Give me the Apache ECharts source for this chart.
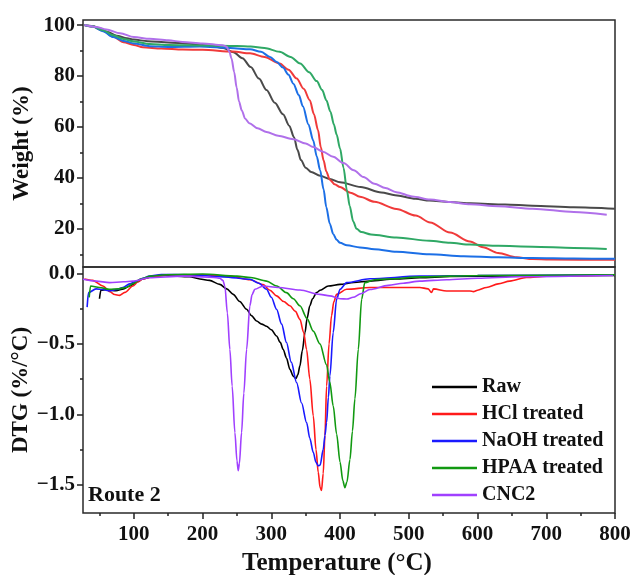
<!DOCTYPE html>
<html>
<head>
<meta charset="utf-8">
<script src="https://cdn.jsdelivr.net/npm/echarts@6/dist/echarts.min.js"></script>
<style>html,body{margin:0;padding:0;background:#fff}#c{width:630px;height:575px}</style>
</head>
<body>
<div id="c"></div>
<script>
// ---- Data ----
const seriesNames = ['Raw', 'HCl treated', 'NaOH treated', 'HPAA treated', 'CNC2'];
const xTickLabels = [100, 200, 300, 400, 500, 600, 700, 800];
const xMinorTicks = [50, 150, 250, 350, 450, 550, 650, 750];
const tgTickLabels = [20, 40, 60, 80, 100];
const tgMinorTicks = [10, 30, 50, 70, 90];
const dtgTickLabels = [0, -0.5, -1.0, -1.5];
const dtgMinorTicks = [-0.25, -0.75, -1.25];

// TG (weight %) curves: [temperature, weight]
const tgRaw = [[28,100],[40,99.6],[50,98.8],[62,97.3],[75,95.8],[90,94.8],[100,94.3],[120,93.7],[150,93.2],[180,92.7],[210,92],[230,91],[245,89.3],[258,87],[270,83.5],[282,79],[293,74.5],[305,69.5],[317,65],[326,60.5],[333,56],[338,51],[343,47],[350,44],[358,42.3],[371,40.8],[385,39.6],[400,38.3],[430,36.4],[460,34.3],[480,33.2],[510,31.8],[530,31.1],[560,30.5],[590,30],[640,29.5],[680,29.1],[740,28.5],[800,27.9]];
const tgHCl = [[28,100],[40,99.4],[55,97.8],[70,95.5],[85,93.3],[100,92.2],[113,91.3],[140,90.8],[171,90.4],[200,90.3],[244,89.6],[269,88.9],[290,87.5],[312,84.9],[325,82.5],[337,79],[347,75],[356,70.5],[362,65],[368,58.7],[372,52],[376,46.9],[380,42.5],[385,39.3],[392,37.5],[400,36.4],[415,34.2],[429,32.6],[450,30.6],[482,27.8],[510,25.2],[531,22.5],[560,18.5],[589,15],[608,12.8],[630,10.5],[657,8.8],[680,8.1],[705,7.9],[800,7.8]];
const tgNaOH = [[28,100],[40,99.4],[55,97.6],[70,95.3],[85,93.8],[100,92.8],[123,91.7],[150,91.4],[196,91.6],[240,91],[269,90.5],[285,89.5],[298,87.5],[308,85.5],[317,83.3],[325,80.5],[332,77],[340,72.5],[346,68],[354,61],[361,54.7],[366,48.5],[371,43],[376,35.5],[380,28.5],[385,22],[390,18],[395,15.7],[400,14.5],[410,13.5],[429,12.7],[450,12],[482,11],[530,10],[580,9.2],[630,8.8],[680,8.5],[740,8.3],[800,8.2]];
const tgHPAA = [[28,100],[40,99.5],[55,98],[70,96],[85,94.5],[100,93.6],[123,92.6],[150,92.2],[200,92],[250,91.8],[270,91.6],[290,91],[312,89.5],[328,87.5],[342,84.9],[355,81.5],[366,78],[374,74.5],[380,70.5],[386,66],[391,61],[395,57],[400,51.5],[405,44],[410,35],[414,29],[419,23],[424,20],[431,18.7],[445,17.8],[482,16.6],[530,15.3],[560,14.5],[589,13.8],[630,13.3],[680,13],[740,12.5],[788,12.1]];
const tgCNC2 = [[28,100],[45,99.3],[60,98.3],[80,96.8],[100,95.3],[123,94.6],[150,94],[171,93.4],[200,92.8],[229,92.1],[235,91.5],[239,89.5],[242,87],[246,81.5],[249.5,75.5],[253,70],[257,66.5],[262,63.2],[268,61.5],[280,59.5],[293,58],[310,56.5],[332,55.2],[350,53.5],[361,52.1],[375,50.3],[390,48.3],[405,45.8],[420,43],[434,40.3],[450,37.7],[466,36],[482,34.4],[505,32.7],[531,31.5],[560,30.5],[589,29.6],[630,28.9],[680,27.9],[740,26.6],[788,25.5]];

// DTG (%/°C) curves: [temperature, dtg]
const dtgRaw = [[50,-0.18],[52,-0.12],[60,-0.115],[74,-0.123],[85,-0.11],[94,-0.09],[105,-0.06],[113,-0.04],[130,-0.02],[146,-0.015],[181,-0.024],[196,-0.04],[210,-0.05],[225,-0.078],[235,-0.11],[244.5,-0.149],[254,-0.2],[264,-0.255],[271,-0.3],[278.5,-0.338],[286,-0.36],[293,-0.375],[300,-0.4],[307.6,-0.444],[313,-0.49],[317.3,-0.54],[322,-0.6],[327,-0.68],[332,-0.73],[335.8,-0.746],[338.5,-0.72],[341.6,-0.656],[345,-0.55],[349,-0.42],[352,-0.32],[356,-0.23],[360,-0.18],[365.8,-0.137],[371,-0.12],[383,-0.09],[400,-0.078],[420,-0.065],[443.5,-0.055],[480,-0.04],[516,-0.031],[560,-0.022],[650,-0.018],[800,-0.015]];
const dtgHCl = [[28,-0.04],[40,-0.05],[55,-0.09],[65,-0.13],[72,-0.15],[79,-0.156],[87,-0.135],[98.5,-0.09],[106,-0.06],[113,-0.04],[130,-0.02],[146.6,-0.012],[200,-0.01],[240,-0.02],[269,-0.045],[288,-0.08],[298,-0.12],[307.6,-0.16],[318,-0.2],[327,-0.23],[335,-0.27],[341.6,-0.326],[347,-0.42],[351.3,-0.54],[356,-0.75],[361,-1.01],[365,-1.25],[368.2,-1.41],[371,-1.52],[373,-1.54],[375.5,-1.42],[378,-1.15],[380.4,-0.8],[384,-0.5],[387.6,-0.3],[391,-0.2],[395,-0.149],[409.5,-0.113],[443.5,-0.1],[492,-0.1],[516,-0.1],[528,-0.11],[533,-0.136],[536,-0.11],[555,-0.125],[575,-0.125],[589,-0.125],[594,-0.13],[600,-0.12],[613,-0.1],[630,-0.075],[647,-0.055],[671,-0.03],[700,-0.02],[800,-0.012]];
const dtgNaOH = [[32,-0.24],[34,-0.137],[45,-0.11],[55,-0.115],[64.6,-0.125],[75,-0.115],[84,-0.1],[94,-0.075],[103.4,-0.055],[113,-0.035],[122.8,-0.02],[140,-0.008],[180,-0.01],[230,-0.025],[268.8,-0.042],[282,-0.07],[293,-0.113],[300,-0.17],[307.6,-0.255],[315,-0.36],[322,-0.49],[329,-0.63],[336.8,-0.775],[344,-0.92],[351.3,-1.058],[356,-1.17],[361,-1.27],[365,-1.34],[368.2,-1.365],[371,-1.36],[375.5,-1.25],[378,-1.15],[380.4,-1.058],[383,-0.88],[385.2,-0.727],[390,-0.42],[395,-0.184],[400,-0.113],[409.5,-0.066],[443.5,-0.038],[516,-0.02],[600,-0.015],[800,-0.01]];
const dtgHPAA = [[35,-0.17],[37,-0.09],[50,-0.1],[64.6,-0.113],[78,-0.11],[88.8,-0.1],[100,-0.07],[110,-0.04],[125,-0.02],[146,-0.01],[200,-0.005],[250,-0.02],[270,-0.03],[293,-0.055],[308,-0.09],[322,-0.137],[332,-0.18],[341.6,-0.23],[352,-0.32],[361,-0.41],[370.7,-0.5],[380.4,-0.65],[385,-0.77],[390,-0.94],[395,-1.14],[400,-1.34],[404,-1.47],[407,-1.52],[410,-1.48],[414.4,-1.32],[418,-1.12],[421.6,-0.89],[426.5,-0.54],[431.4,-0.184],[436,-0.066],[450,-0.045],[467.8,-0.04],[520,-0.025],[600,-0.015],[800,-0.01]];
const dtgCNC2 = [[26,-0.042],[45,-0.055],[64.6,-0.066],[85,-0.06],[98.5,-0.055],[122,-0.031],[171,-0.02],[200,-0.025],[219.8,-0.031],[225,-0.035],[229.5,-0.05],[232.4,-0.09],[236,-0.28],[239.7,-0.54],[243,-0.8],[247,-1.13],[250,-1.33],[251.8,-1.40],[253.5,-1.35],[256.7,-1.13],[260,-0.85],[264,-0.54],[268.8,-0.23],[272,-0.15],[276,-0.113],[288,-0.09],[310,-0.1],[341.6,-0.118],[370.7,-0.149],[385,-0.16],[400,-0.18],[410,-0.182],[419,-0.17],[430,-0.145],[443.5,-0.115],[470,-0.085],[492,-0.07],[516,-0.055],[555,-0.045],[600,-0.035],[662,-0.024],[797,-0.015]];

const tgData = [tgRaw, tgHCl, tgNaOH, tgHPAA, tgCNC2];
const dtgData = [dtgRaw, dtgHCl, dtgNaOH, dtgHPAA, dtgCNC2];
const tgColors = ['#4a4a4a', '#f03a3a', '#1c6fe6', '#2fa865', '#b070ea'];
const dtgColors = ['#000000', '#ff1a1a', '#1a1aff', '#119911', '#a040ff'];

// ---- Chart ----
const FONT = '"Liberation Serif", "Times New Roman", serif';
const INK = '#111';
const tickStyle = {color: '#222', width: 1.5};
const chart = echarts.init(document.getElementById('c'), null, {renderer: 'canvas'});

function fmtDtg(v) {
  const s = Math.abs(v).toFixed(1);
  return v < 0 ? '\u2212' + s : s;
}

const series = [];
tgData.forEach((d, i) => series.push({
  name: seriesNames[i] + ' TG', type: 'line', xAxisIndex: 0, yAxisIndex: 0,
  data: d, symbol: 'none', smooth: 0.3, smoothMonotone: 'x',
  lineStyle: {color: tgColors[i], width: 2}, itemStyle: {color: tgColors[i]}, z: 3
}));
dtgData.forEach((d, i) => series.push({
  name: seriesNames[i], type: 'line', xAxisIndex: 1, yAxisIndex: 1,
  data: d, symbol: 'none', smooth: 0.3, smoothMonotone: 'x',
  lineStyle: {color: dtgColors[i], width: 1.6}, itemStyle: {color: dtgColors[i]}, z: 3
}));

const gridBase = {left: 83, right: 15, show: true, borderColor: '#2a2a2a', borderWidth: 1.5,
  backgroundColor: 'transparent', containLabel: false, outerBoundsMode: 'none'};
const noLine = {show: false, onZero: false};
const nameStyle = {fontFamily: FONT, fontWeight: 'bold', fontSize: 23, color: INK};
const labStyle = {fontFamily: FONT, fontWeight: 'bold', fontSize: 21, color: INK};

const option = {
  animation: false,
  backgroundColor: '#fff',
  grid: [
    Object.assign({top: 20, height: 247}, gridBase),
    Object.assign({top: 267, height: 246}, gridBase)
  ],
  xAxis: [
    {type: 'value', gridIndex: 0, position: 'bottom', min: 26, max: 800, axisLine: noLine, axisTick: {show: false}, axisLabel: {show: false}, splitLine: {show: false}},
    {type: 'value', gridIndex: 1, position: 'bottom', offset: 0, min: 26, max: 800, axisLine: noLine,
     axisTick: {show: true, length: 6, lineStyle: tickStyle, customValues: xTickLabels},
     axisLabel: Object.assign({show: true, customValues: xTickLabels, margin: 11}, labStyle),
     splitLine: {show: false},
     name: 'Temperature (\u00B0C)', nameLocation: 'middle', nameGap: 38, nameMoveOverlap: false,
     nameTextStyle: Object.assign({}, nameStyle, {fontSize: 25, padding: [0, 24, 0, 0]})},
    {type: 'value', gridIndex: 1, position: 'bottom', offset: 0, min: 26, max: 800, axisLine: noLine,
     axisTick: {show: true, length: 3, lineStyle: tickStyle, customValues: xMinorTicks},
     axisLabel: {show: false}, splitLine: {show: false}}
  ],
  yAxis: [
    {type: 'value', gridIndex: 0, position: 'left', offset: 0, min: 5, max: 102, axisLine: noLine,
     axisTick: {show: true, length: 6, lineStyle: tickStyle, customValues: tgTickLabels},
     axisLabel: Object.assign({show: true, customValues: tgTickLabels, margin: 8}, labStyle),
     splitLine: {show: false},
     name: 'Weight (%)', nameLocation: 'middle', nameGap: 49, nameMoveOverlap: false,
     nameTextStyle: nameStyle},
    {type: 'value', gridIndex: 1, position: 'left', offset: 0, min: -1.7, max: 0.045, axisLine: noLine,
     axisTick: {show: true, length: 6, lineStyle: tickStyle, customValues: dtgTickLabels},
     axisLabel: Object.assign({show: true, customValues: dtgTickLabels, margin: 8, formatter: fmtDtg}, labStyle),
     splitLine: {show: false},
     name: 'DTG (%/\u00B0C)', nameLocation: 'middle', nameGap: 50, nameMoveOverlap: false,
     nameTextStyle: nameStyle},
    {type: 'value', gridIndex: 0, position: 'left', offset: 0, min: 5, max: 102, axisLine: noLine,
     axisTick: {show: true, length: 3, lineStyle: tickStyle, customValues: tgMinorTicks},
     axisLabel: {show: false}, splitLine: {show: false}},
    {type: 'value', gridIndex: 1, position: 'left', offset: 0, min: -1.7, max: 0.045, axisLine: noLine,
     axisTick: {show: true, length: 3, lineStyle: tickStyle, customValues: dtgMinorTicks},
     axisLabel: {show: false}, splitLine: {show: false}}
  ],
  legend: {
    data: seriesNames, orient: 'vertical', left: 432, top: 377,
    icon: 'rect', itemWidth: 45, itemHeight: 2.5, itemGap: 7, padding: 0,
    textStyle: {fontFamily: FONT, fontWeight: 'bold', fontSize: 20, color: INK, lineHeight: 20}
  },
  graphic: [
    {type: 'text', left: 88, top: 484, style: {text: 'Route 2', font: 'bold 22px "Liberation Serif", serif', fill: INK}}
  ],
  series: series
};
chart.setOption(option);
</script>
</body>
</html>
